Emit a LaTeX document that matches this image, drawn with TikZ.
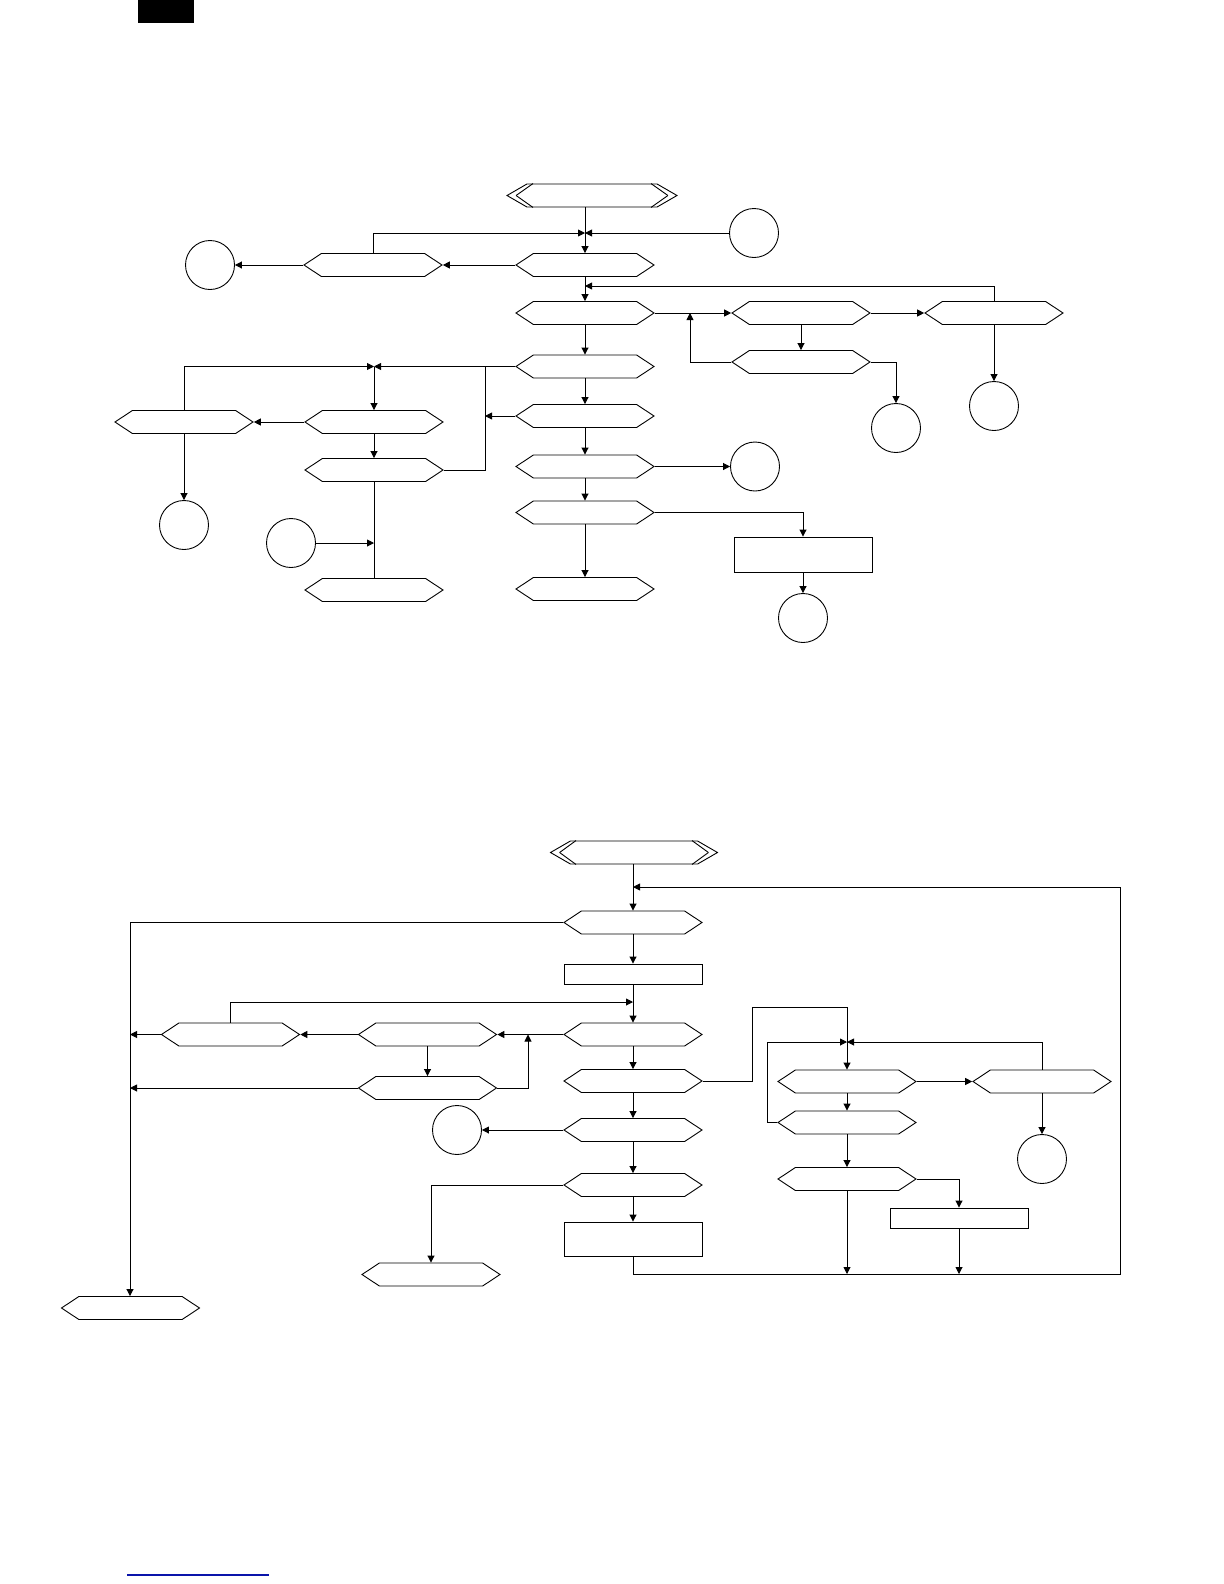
\documentclass[tikz,border=0pt]{standalone}
\usetikzlibrary{shapes.symbols,arrows.meta}
\definecolor{linkblue}{RGB}{10,20,170}
\tikzset{
  every path/.style={line width=0.45bp},
  hex/.style={draw, signal, signal to=west and east, signal pointer angle=67,
    minimum width=69bp, minimum height=11.5bp, inner sep=0pt},
  starthex/.style={hex, signal pointer angle=60, minimum width=85bp},
  conn/.style={draw, circle, minimum size=24.5bp, inner sep=0pt},
  stepbox/.style={draw, rectangle, minimum width=69bp, inner sep=0pt},
  >={Triangle[length=3.5bp,width=3.5bp]}
}
\begin{document}
\begin{tikzpicture}[x=0.5bp, y=-0.5bp]
\useasboundingbox (0,0) rectangle (1224,1584);
\fill (138,0) rectangle (194,23);
\draw[linkblue, line width=0.9bp] (127,1575) -- (269,1575);

% first chart
\node[starthex] (start) at (592,195.5) {};
\node[conn] (cIn) at (754,233) {};
\node[hex] (qA) at (585,265) {};
\node[hex] (qAL) at (373,265) {};
\node[conn] (cAL) at (210,265) {};
\node[hex] (qB) at (585,313) {};
\node[hex] (qB1) at (801,313) {};
\node[hex] (qB2) at (994,313) {};
\node[hex] (qB1a) at (801,362) {};
\node[conn] (cB1a) at (896,428) {};
\node[conn] (cB2) at (994,406) {};
\node[hex] (qC) at (585,366.5) {};
\node[hex] (qD) at (585,416) {};
\node[hex] (qE) at (585,466.5) {};
\node[conn] (cE) at (755,466.5) {};
\node[hex] (qF) at (585,512.5) {};
\node[stepbox, minimum height=17.5bp] (bF) at (803,554.5) {};
\node[conn] (cF) at (803,618) {};
\node[hex] (qG) at (585,589) {};
\node[hex] (qL1) at (374,422) {};
\node[hex] (qL0) at (184,422) {};
\node[conn] (cL0) at (184,525) {};
\node[hex] (qL2) at (374,470) {};
\node[conn] (cL3) at (291,543) {};
\node[hex] (qL3) at (374,590) {};

\coordinate (jA) at (585,233);
\coordinate (jB) at (585,286);
\coordinate (jB1) at (690,313);
\coordinate (jL) at (374,366.5);
\coordinate (jC) at (485,366.5);

\draw ([xshift=5bp]start.west) -- ([xshift=-29.5bp]start.north);
\draw ([xshift=5bp]start.west) -- ([xshift=-29.5bp]start.south);
\draw ([xshift=-5bp]start.east) -- ([xshift=29.5bp]start.north);
\draw ([xshift=-5bp]start.east) -- ([xshift=29.5bp]start.south);

\draw[->] (start.south -| qA) -- (qA.north);
\draw[->] (qAL.north) |- (jA);
\draw[->] (cIn) -- (jA);
\draw[->] (qA) -- (qAL);
\draw[->] (qAL) -- (cAL);
\draw[->] (qA) -- (qB);
\draw[->] (qB2.north) |- (jB);
\draw[->] (qB) -- (qB1);
\draw[->] (qB1) -- (qB2);
\draw[->] (qB1) -- (qB1a);
\draw[->] (qB1a.west) -| (jB1);
\draw[->] (qB1a.east) -| (cB1a.north);
\draw[->] (qB2) -- (cB2);
\draw[->] (qB) -- (qC);
\draw[->] (qC) -- (qD);
\draw[->] (qD) -- (qE);
\draw[->] (qE) -- (qF);
\draw[->] (qF) -- (qG);
\draw[->] (qE) -- (cE);
\draw[->] (qF.east) -| (bF.north);
\draw[->] (bF) -- (cF);
\draw (qC.west) -- (jC);
\draw[->] (qL2.east) -| (jC) -- (jL);
\draw[->] (qD.west) -- (qD.west -| jC);
\draw[->] (qL0.north) |- (jL);
\draw[->] (jL) -- (qL1);
\draw[->] (qL1) -- (qL0);
\draw[->] (qL1) -- (qL2);
\draw (qL2) -- (qL3);
\draw[->] (cL3) -- (cL3 -| qL2);
\draw[->] (qL0) -- (cL0);

% second chart
\node[starthex, minimum width=83.5bp] (start2) at (634,852.5) {};
\node[hex] (pA) at (633,922.5) {};
\node[stepbox, minimum height=10bp] (bB) at (633,974) {};
\node[hex] (pC) at (633,1034.5) {};
\node[hex] (pCL) at (427.5,1034.5) {};
\node[hex] (pCLL) at (230.5,1034.5) {};
\node[hex] (pCLa) at (427.5,1088) {};
\node[hex] (pD) at (633,1081) {};
\node[hex] (pE) at (633,1130) {};
\node[conn] (cE2) at (457,1130) {};
\node[hex] (pF) at (633,1185) {};
\node[stepbox, minimum height=17bp] (bG) at (633,1239) {};
\node[hex] (pEnd) at (431,1274.5) {};
\node[hex] (pExit) at (130.5,1308) {};
\node[hex] (pR1) at (847,1081.5) {};
\node[hex] (pR2) at (847,1122.5) {};
\node[hex] (pR3) at (1042,1081.5) {};
\node[conn] (cR3) at (1042,1159) {};
\node[hex] (pR4) at (847,1179) {};
\node[stepbox, minimum height=10bp] (bR5) at (959,1218) {};

\coordinate (kA) at (633,887);
\coordinate (kC) at (633,1002);
\coordinate (kCL) at (528,1034.5);
\coordinate (kL) at (130,922.5);
\coordinate (kD) at (752,1007);
\coordinate (kR) at (847,1042);
\coordinate (kR2) at (767,1042);
\coordinate (kBot) at (633,1274);
\coordinate (kRight) at (1120,1274);

\draw ([xshift=5bp]start2.west) -- ([xshift=-29bp]start2.north);
\draw ([xshift=5bp]start2.west) -- ([xshift=-29bp]start2.south);
\draw ([xshift=-5bp]start2.east) -- ([xshift=29bp]start2.north);
\draw ([xshift=-5bp]start2.east) -- ([xshift=29bp]start2.south);

\draw[->] (start2.south -| pA) -- (pA.north);
\draw[->] (bG.south) -- (kBot) -- (kRight) |- (kA);
\draw[->] (pA) -- (bB);
\draw[->] (pA.west) -- (kL) -- (kL |- pExit.north);
\draw[->] (bB) -- (pC);
\draw[->] (pCLL.north) |- (kC);
\draw[->] (pC) -- (pCL);
\draw[->] (pCL) -- (pCLL);
\draw[->] (pCLL.west) -- (pCLL.west -| kL);
\draw[->] (pCL) -- (pCLa);
\draw[->] (pCLa.east) -| (kCL);
\draw[->] (pCLa.west) -- (pCLa.west -| kL);
\draw[->] (pC) -- (pD);
\draw[->] (pD) -- (pE);
\draw[->] (pE) -- (cE2);
\draw[->] (pE) -- (pF);
\draw[->] (pF.west) -| (pEnd.north);
\draw[->] (pF) -- (bG);
\draw[->] (pD.east) -| (kD) -| (pR1.north);
\draw[->] (pR2.west) -| (kR2) -- (kR);
\draw[->] (pR3.north) |- (kR);
\draw[->] (pR1) -- (pR3);
\draw[->] (pR1) -- (pR2);
\draw[->] (pR3) -- (cR3);
\draw[->] (pR2) -- (pR4);
\draw[->] (pR4.east) -| (bR5.north);
\draw[->] (pR4) -- (pR4 |- kBot);
\draw[->] (bR5) -- (bR5 |- kBot);
\end{tikzpicture}
\end{document}
